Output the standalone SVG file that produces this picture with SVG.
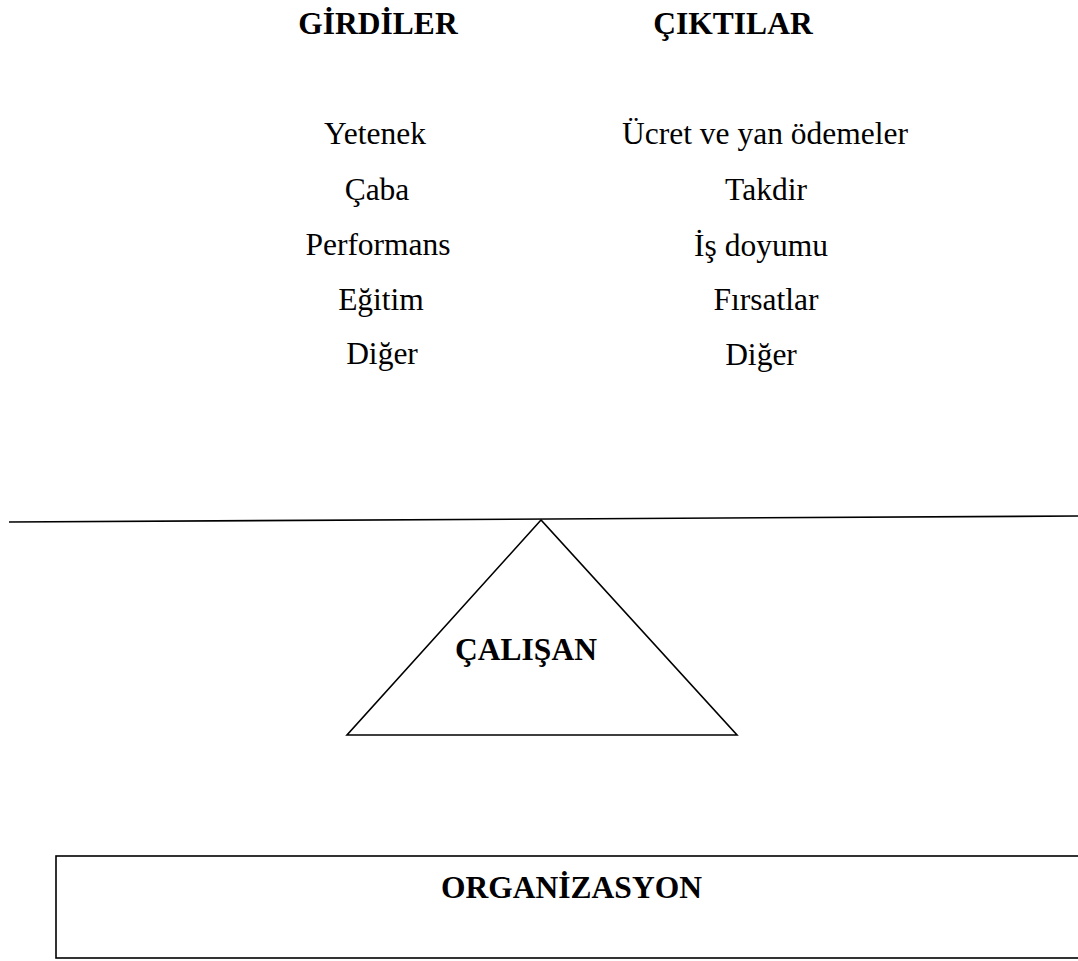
<svg xmlns="http://www.w3.org/2000/svg" width="1078" height="961" viewBox="0 0 1078 961">
<style>
.t{font-family:"Liberation Serif","Times New Roman",serif;font-size:31.5px;fill:#000;text-anchor:middle}
.b{font-weight:bold}
.s{fill:none;stroke:#000;stroke-width:1.6}
</style>
<rect width="1078" height="961" fill="#fff"/>
<g id="headers">
<text class="t b" x="378" y="34">GİRDİLER</text>
<text class="t b" x="733" y="34">ÇIKTILAR</text>
</g>
<g id="inputs">
<text class="t" x="375" y="144">Yetenek</text>
<text class="t" x="377" y="200">Çaba</text>
<text class="t" x="378" y="255">Performans</text>
<text class="t" x="381" y="310">Eğitim</text>
<text class="t" x="382" y="364">Diğer</text>
</g>
<g id="outputs">
<text class="t" x="765" y="144">Ücret ve yan ödemeler</text>
<text class="t" x="766" y="200">Takdir</text>
<text class="t" x="761" y="256">İş doyumu</text>
<text class="t" x="766" y="310">Fırsatlar</text>
<text class="t" x="761" y="365">Diğer</text>
</g>
<g id="connectors">
<line class="s" x1="9" y1="522" x2="1078" y2="516"/>
</g>
<g id="calisan">
<polygon class="s" points="541,520 347,735 737,735"/>
<text class="t b" x="526" y="660">ÇALIŞAN</text>
</g>
<g id="organizasyon">
<rect class="s" x="56" y="856" width="1040" height="102"/>
<text class="t b" x="571.5" y="898">ORGANİZASYON</text>
</g>
</svg>
